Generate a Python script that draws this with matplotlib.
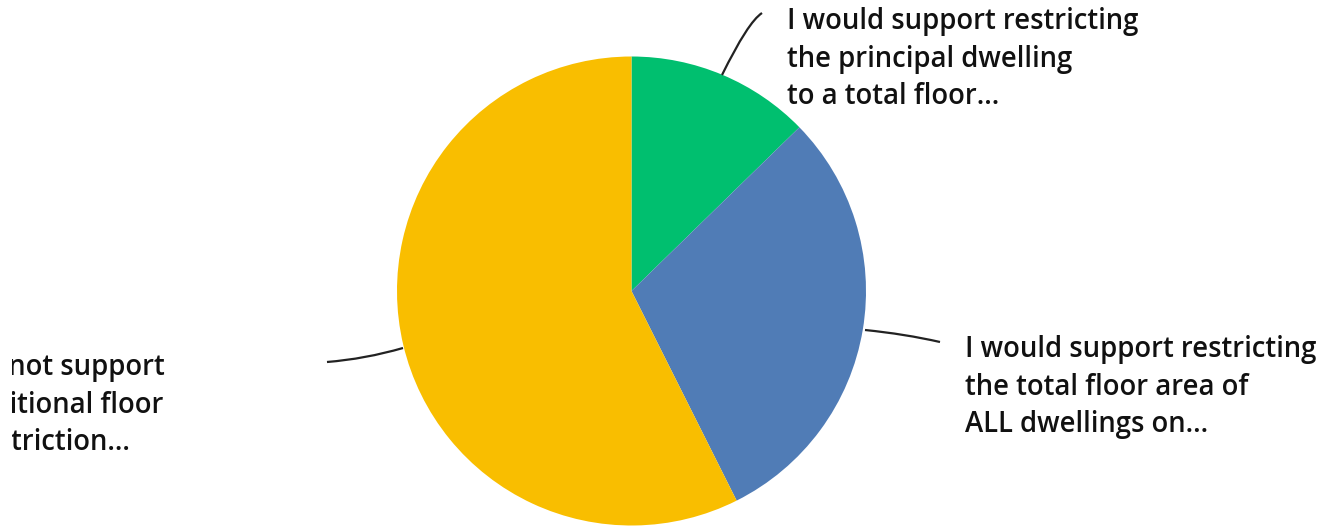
import matplotlib.pyplot as plt
from matplotlib.path import Path
from matplotlib.patches import PathPatch, Rectangle

# survey answer shares (percent)
labels = [
    "I would support restricting\nthe principal dwelling\nto a total floor...",
    "I would support restricting\nthe total floor area of\nALL dwellings on...",
    "I would not support\nany additional floor\narea restriction...",
]
shares = [12.7, 29.9, 57.4]
colors = ["#00BF6F", "#507CB6", "#F9BE00"]

W, H = 1327, 527
fig = plt.figure(figsize=(W / 100, H / 100), dpi=100)
ax = fig.add_axes([0, 0, 1, 1])

cx, cy, r = 631.5, H - 291, 234.5
ax.pie(shares, colors=colors, startangle=90, counterclock=False,
       center=(cx, cy), radius=r, frame=True,
       wedgeprops=dict(linewidth=0))
ax.set_xlim(0, W)
ax.set_ylim(0, H)
ax.set_aspect("equal")
ax.axis("off")


def leader(p0, c, p1):
    # quadratic curve in image pixel coords (y down)
    verts = [(p0[0], H - p0[1]), (c[0], H - c[1]), (p1[0], H - p1[1])]
    path = Path(verts, [Path.MOVETO, Path.CURVE3, Path.CURVE3])
    ax.add_patch(PathPatch(path, fill=False, color="#222222", lw=1.6))


leader((722, 75), (748, 22), (762, 13))
leader((865, 330), (905, 334), (940, 342))
leader((403, 348), (365, 359), (327, 362))

# va="baseline" puts the LAST line's baseline at y
font = dict(family="Open Sans", weight="semibold", fontsize=19.8,
            color="#111111", linespacing=1.38)
ax.text(787, H - 104, labels[0], ha="left", va="baseline", **font)
ax.text(965, H - 432, labels[1], ha="left", va="baseline", **font)
ax.text(165, H - 450, labels[2], ha="right", va="baseline",
        multialignment="left", **font)

# the left label is cut by the chart container in the original
ax.add_patch(Rectangle((0, 0), 12, H, facecolor="white", edgecolor="none",
                       zorder=10))

fig.savefig("out.png", dpi=100)
